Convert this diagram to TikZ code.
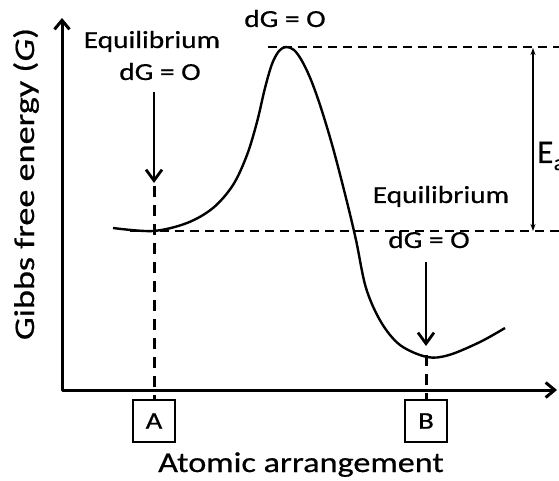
\documentclass[tikz,border=0pt]{standalone}
\usepackage{fontspec}
\setmainfont{Carlito}[FakeStretch=1.2,FakeBold=0.6]
\newfontfamily\axisfont{Carlito}[FakeStretch=1.2,FakeBold=0.6]
\newfontfamily\yaxisfont{Carlito}[FakeStretch=1.27,FakeBold=0.6]
\newfontfamily\eafont{Carlito}[FakeBold=0.6]
\usepackage{tikz}
\usetikzlibrary{positioning,calc,arrows.meta}

\begin{document}
\begin{tikzpicture}[x=1pt,y=-1pt,
    axis/.style={line width=3pt, line join=round, {Straight Barb[length=9pt,width=15pt]}-{Straight Barb[length=9pt,width=15pt]}},
    curve/.style={line width=2.4pt},
    guide/.style={line width=1.3pt, dash pattern=on 9pt off 6pt},
    marker/.style={line width=3pt, dash pattern=on 11pt off 8pt},
    down/.style={line width=2.8pt, -{Straight Barb[length=11pt,width=16pt]}},
    gap/.style={line width=1.3pt, {Stealth[length=7pt,width=5pt]}-{Stealth[length=7pt,width=5pt]}},
    lbl/.style={font=\fontsize{24.5}{28}\selectfont, inner sep=0pt, anchor=base},
    axlbl/.style={font=\axisfont\fontsize{28.5}{32}\selectfont, inner sep=0pt, anchor=base},
    statebox/.style={draw, line width=1.5pt, minimum size=42pt, inner sep=0pt, font=\fontsize{24}{28}\selectfont}]
  \useasboundingbox (0,0) rectangle (559,481);

  % axes
  \coordinate (ytop) at (62,18);
  \coordinate (orig) at (62,390);
  \coordinate (xend) at (557,390);
  \draw[axis] (ytop) -- (orig) -- (xend);
  \node[axlbl, font=\yaxisfont\fontsize{28.5}{32}\selectfont, rotate=90] (ylab) at (34,184) {Gibbs free energy (\textit{G})};
  \node[axlbl] (xlab) at (301,472) {Atomic arrangement};

  % energy curve
  \draw[curve] plot[smooth, tension=0.55] coordinates {(113,228) (153,231) (187,223) (213,208) (233,185) (247,155) (257,122) (265,88) (272,64) (279,51) (286,47) (294,50) (302,61) (311,80) (321,108) (333,148) (346,198) (356,240) (366,288) (381,322) (400,345) (427,357) (449,355) (480,342) (505,328)};

  % levels
  \coordinate (peak) at (268,47);
  \coordinate (peakR) at (559,47);
  \coordinate (baseL) at (130,231);
  \coordinate (baseR) at (559,231);
  \draw[guide] (peak) -- (peakR);
  \draw[guide] (baseL) -- (baseR);
  \coordinate (eaTop) at (533,48);
  \coordinate (eaBot) at (533,231);
  \draw[gap] (eaTop) -- (eaBot);
  \node[inner sep=0pt, anchor=base west, font=\eafont\fontsize{33}{36}\selectfont] (ea) at (537,163) {E\kern0.5pt\raisebox{-7pt}{\fontsize{22}{24}\selectfont a}};

  % labels
  \node[lbl] (eqA) at (152,48) {Equilibrium};
  \node[lbl] (dGA) at (160,80) {dG = O};
  \node[lbl] (dGtop) at (285,27) {dG = O};
  \node[lbl] (eqB) at (441,203) {Equilibrium};
  \node[lbl] (dGB) at (429,248) {dG = O};

  % states
  \node[statebox] (A) at (154,421) {A};
  \node[statebox] (B) at (426,421) {B};
  \coordinate (tipA) at (154,183);
  \coordinate (tipB) at (426,346);
  \draw[down] (tipA |- 0,92) -- (tipA);
  \draw[down] (tipB |- 0,262) -- (tipB);
  \draw[marker] (tipA) ++(0,3) -- (A.north);
  \draw[marker] (tipB) ++(0,9) -- (B.north);
\end{tikzpicture}
\end{document}
